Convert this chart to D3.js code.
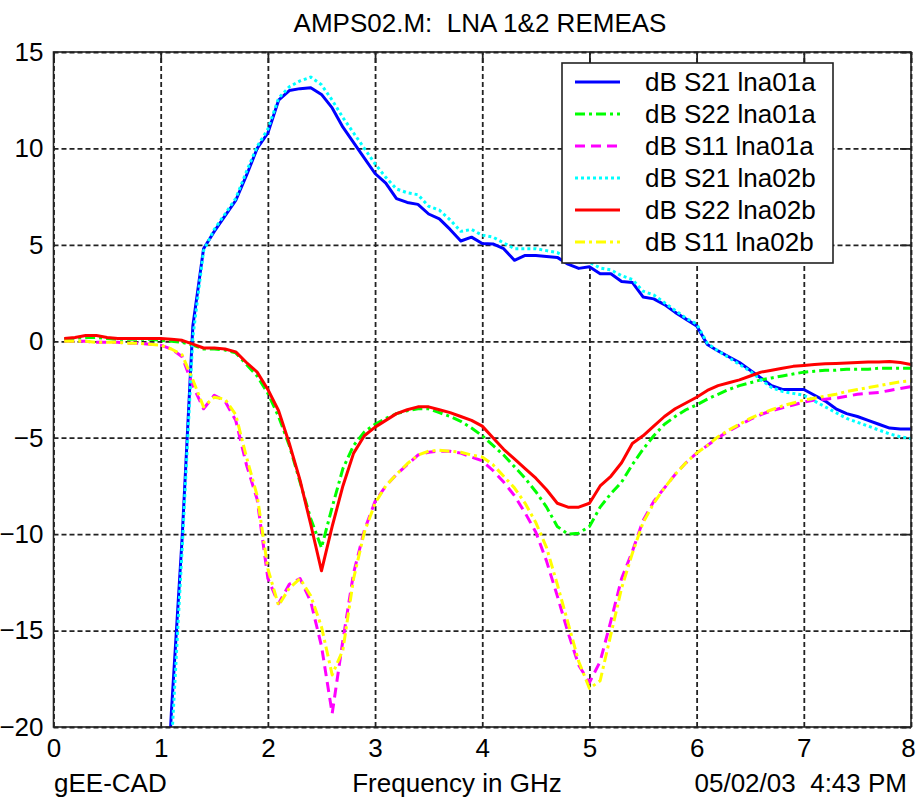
<!DOCTYPE html>
<html>
<head>
<meta charset="utf-8">
<script src="https://cdn.jsdelivr.net/npm/d3@7"></script>
<style>
   body { margin: 0; background: #fff; }
   svg text { font-family: "Liberation Sans", Arial, sans-serif; font-size: 26px; fill: #000; }
</style>
</head>
<body>
<div id="chart"></div>
<script>
// frequency grid in GHz
var freq = [0.1, 0.2, 0.3, 0.4, 0.5, 0.6, 0.7, 0.8, 0.9, 1.0,
   1.1, 1.2, 1.3, 1.4, 1.5, 1.6, 1.7, 1.8, 1.9, 2.0,
   2.1, 2.2, 2.3, 2.4, 2.5, 2.6, 2.7, 2.8, 2.9, 3.0,
   3.1, 3.2, 3.3, 3.4, 3.5, 3.6, 3.7, 3.8, 3.9, 4.0,
   4.1, 4.2, 4.3, 4.4, 4.5, 4.6, 4.7, 4.8, 4.9, 5.0,
   5.1, 5.2, 5.3, 5.4, 5.5, 5.6, 5.7, 5.8, 5.9, 6.0,
   6.1, 6.2, 6.3, 6.4, 6.5, 6.6, 6.7, 6.8, 6.9, 7.0,
   7.1, 7.2, 7.3, 7.4, 7.5, 7.6, 7.7, 7.8, 7.9, 8.0];

// below -20 dB before 1 GHz: not on the plot
var s21a = [null, null, null, null, null, null, null, null, null, -30,
   -19.2, -10.2, 0.8, 4.8, 5.7, 6.5, 7.3, 8.6, 10.0, 10.8,
   12.5, 13.0, 13.1, 13.15, 12.8, 12.1, 11.1, 10.3, 9.5, 8.7,
   8.2, 7.4, 7.2, 7.1, 6.6, 6.35, 5.8, 5.2, 5.4, 5.07,
   5.05, 4.8, 4.2, 4.45, 4.45, 4.4, 4.35, 4.0, 3.78, 3.86,
   3.5, 3.5, 3.1, 3.05, 2.3, 2.2, 1.9, 1.5, 1.15, 0.8,
   -0.17, -0.5, -0.8, -1.1, -1.5, -1.9, -2.3, -2.5, -2.5, -2.5,
   -2.8, -3.1, -3.5, -3.75, -3.9, -4.1, -4.3, -4.5, -4.55, -4.55];

var s22a = [0.1, 0.15, 0.2, 0.2, 0.15, 0.1, 0.1, 0.1, 0.1, 0.05,
   0.0, -0.05, -0.2, -0.4, -0.4, -0.45, -0.6, -1.2, -1.8, -2.7,
   -3.9, -5.4, -7.3, -9.2, -10.7, -8.6, -6.6, -5.4, -4.7, -4.3,
   -4.0, -3.75, -3.6, -3.5, -3.5, -3.7, -3.9, -4.15, -4.5, -4.9,
   -5.4, -5.9, -6.5, -7.1, -7.8, -8.6, -9.6, -10.0, -9.95, -9.6,
   -8.6, -7.9, -7.3, -6.4, -5.6, -4.9, -4.3, -3.9, -3.55, -3.3,
   -3.0, -2.75, -2.5, -2.3, -2.15, -2.0, -1.9, -1.8, -1.7, -1.6,
   -1.55, -1.5, -1.5, -1.45, -1.45, -1.45, -1.4, -1.4, -1.4, -1.4];

var s11a = [0.0, 0.0, 0.0, -0.05, -0.05, -0.05, -0.1, -0.1, -0.15, -0.2,
   -0.4, -0.8, -2.3, -3.5, -2.8, -3.1, -4.1, -6.4, -8.2, -12.3,
   -13.6, -12.6, -12.3, -13.5, -15.8, -19.3, -15.5, -12.0, -9.8, -8.3,
   -7.5, -6.9, -6.4, -5.9, -5.75, -5.7, -5.7, -5.8, -6.0, -6.2,
   -6.7, -7.3, -8.0, -8.9, -9.9, -11.4, -13.2, -15.1, -16.8, -17.7,
   -16.6, -14.5, -12.3, -10.9, -9.3, -8.3, -7.6, -6.9, -6.3, -5.8,
   -5.4, -5.0, -4.65, -4.35, -4.05, -3.8, -3.6, -3.45, -3.3, -3.15,
   -3.05, -3.0, -2.95, -2.85, -2.75, -2.7, -2.65, -2.55, -2.45, -2.35];

var s21b = [null, null, null, null, null, null, null, null, null, -32,
   -21, -10.8, 0.2, 4.7, 5.8, 6.6, 7.4, 8.8, 10.1, 11.0,
   12.6, 13.2, 13.5, 13.7, 13.3, 12.5, 11.6, 10.8, 10.0, 9.2,
   8.5, 7.9, 7.7, 7.6, 7.0, 6.8, 6.3, 5.7, 5.8, 5.5,
   5.4, 5.1, 4.8, 4.8, 4.8, 4.7, 4.6, 4.3, 4.1, 4.1,
   3.8, 3.7, 3.4, 3.2, 2.6, 2.4, 2.0, 1.6, 1.2, 0.9,
   -0.1, -0.5, -0.85, -1.2, -1.55, -2.0, -2.4, -2.6, -2.7, -2.8,
   -3.1, -3.4, -3.7, -4.0, -4.2, -4.4, -4.6, -4.8, -4.95, -5.05];

var s22b = [0.15, 0.2, 0.3, 0.3, 0.2, 0.15, 0.15, 0.15, 0.15, 0.15,
   0.1, 0.05, -0.15, -0.35, -0.35, -0.4, -0.55, -1.1, -1.6, -2.5,
   -3.6, -5.3, -7.2, -9.5, -11.9, -9.6, -7.5, -5.8, -4.9, -4.45,
   -4.1, -3.75, -3.55, -3.4, -3.4, -3.55, -3.7, -3.9, -4.1, -4.4,
   -5.0, -5.6, -6.1, -6.6, -7.1, -7.7, -8.4, -8.6, -8.6, -8.4,
   -7.5, -7.0, -6.3, -5.3, -4.9, -4.4, -3.9, -3.5, -3.2, -2.9,
   -2.55, -2.3, -2.15, -2.0, -1.8, -1.6, -1.5, -1.4, -1.3, -1.25,
   -1.2, -1.17, -1.15, -1.12, -1.1, -1.08, -1.08, -1.05, -1.1, -1.2];

var s11b = [0.0, 0.0, 0.0, -0.05, -0.05, -0.05, -0.1, -0.1, -0.15, -0.2,
   -0.4, -0.7, -2.0, -3.4, -2.9, -3.0, -3.8, -6.0, -8.0, -11.8,
   -13.7, -12.8, -12.3, -13.2, -14.8, -17.3, -16.0, -12.3, -9.9, -8.4,
   -7.5, -6.9, -6.35, -5.9, -5.7, -5.65, -5.7, -5.75, -5.9, -6.0,
   -6.4, -7.0, -7.6, -8.4, -9.4, -10.7, -12.6, -14.6, -16.6, -18.0,
   -17.6, -15.2, -12.8, -11.0, -9.4, -8.4, -7.6, -6.9, -6.3, -5.8,
   -5.4, -4.95, -4.6, -4.3, -4.0, -3.75, -3.55, -3.35, -3.2, -3.05,
   -2.95, -2.85, -2.75, -2.6, -2.5, -2.4, -2.3, -2.2, -2.1, -2.05];

var seriesNames = ['dB S21 lna01a', 'dB S22 lna01a', 'dB S11 lna01a',
   'dB S21 lna02b', 'dB S22 lna02b', 'dB S11 lna02b'];
var seriesColors = ['#0000ff', '#00ff00', '#ff00ff', '#00ffff', '#ff0000', '#ffff00'];
var seriesDash = ['none', '10,4,3,4', '10,6', '3,3', 'none', '10,4,3,4'];

var xTicks = [0, 1, 2, 3, 4, 5, 6, 7, 8];
var yTicks = [-20, -15, -10, -5, 0, 5, 10, 15];

function draw_chart() {
   var width = 917, height = 799;
   var left = 53.5, right = 911, top = 52, bottom = 727;

   var x = d3.scaleLinear().domain([0, 8]).range([left, right]);
   var y = d3.scaleLinear().domain([-20, 15]).range([bottom, top]);

   var svg = d3.select('#chart')
      .append('svg')
      .attr('width', width)
      .attr('height', height)
      .style('background', '#fff');

   svg.append('clipPath').attr('id', 'plotclip')
      .append('rect')
      .attr('x', left).attr('y', top)
      .attr('width', right - left).attr('height', bottom - top);

   // dashed grid
   svg.append('g')
      .attr('transform', 'translate(0,' + bottom + ')')
      .call(d3.axisBottom(x).tickValues(xTicks).tickSize(-(bottom - top)).tickFormat(''))
      .call(function (g) {
         g.select('.domain').remove();
         g.selectAll('line').attr('stroke', '#222').attr('stroke-width', 1.8).attr('stroke-dasharray', '5,3');
      });
   svg.append('g')
      .attr('transform', 'translate(' + left + ',0)')
      .call(d3.axisLeft(y).tickValues(yTicks).tickSize(-(right - left)).tickFormat(''))
      .call(function (g) {
         g.select('.domain').remove();
         g.selectAll('line').attr('stroke', '#222').attr('stroke-width', 1.8).attr('stroke-dasharray', '5,3');
      });

   // tick labels
   svg.append('g')
      .attr('transform', 'translate(0,' + bottom + ')')
      .call(d3.axisBottom(x).tickValues(xTicks).tickSize(0).tickPadding(12).tickFormat(d3.format('d')))
      .call(function (g) {
         g.select('.domain').remove();
         g.selectAll('text').attr('font-size', null).attr('font-family', null)
            .attr('dx', function (d) { return d === 8 ? -3 : 0; });
      });
   svg.append('g')
      .attr('transform', 'translate(' + left + ',0)')
      .call(d3.axisLeft(y).tickValues(yTicks).tickSize(0).tickPadding(10).tickFormat(d3.format('d')))
      .call(function (g) {
         g.select('.domain').remove();
         g.selectAll('text').attr('font-size', null).attr('font-family', null);
      });

   // inward ticks on top and right
   svg.append('g')
      .attr('transform', 'translate(0,' + top + ')')
      .call(d3.axisTop(x).tickValues(xTicks).tickSize(-11).tickFormat(''))
      .call(function (g) {
         g.select('.domain').remove();
         g.selectAll('line').attr('stroke', '#222').attr('stroke-width', 1.8);
      });
   svg.append('g')
      .attr('transform', 'translate(' + right + ',0)')
      .call(d3.axisRight(y).tickValues(yTicks).tickSize(-11).tickFormat(''))
      .call(function (g) {
         g.select('.domain').remove();
         g.selectAll('line').attr('stroke', '#222').attr('stroke-width', 1.8);
      });

   // data lines
   var allSeries = [s21a, s22a, s11a, s21b, s22b, s11b];
   var line = d3.line()
      .defined(function (d) { return d[1] !== null; })
      .x(function (d) { return x(d[0]); })
      .y(function (d) { return y(d[1]); });

   svg.append('g')
      .attr('clip-path', 'url(#plotclip)')
      .selectAll('path')
      .data(allSeries)
      .enter().append('path')
      .attr('d', function (vals) {
         return line(freq.map(function (f, i) { return [f, vals[i]]; }));
      })
      .attr('fill', 'none')
      .attr('stroke', function (d, i) { return seriesColors[i]; })
      .attr('stroke-width', 3)
      .attr('stroke-linejoin', 'round')
      .attr('stroke-dasharray', function (d, i) { return seriesDash[i]; });

   // axes box
   svg.append('rect')
      .attr('x', left).attr('y', top)
      .attr('width', right - left).attr('height', bottom - top)
      .attr('fill', 'none')
      .attr('stroke', '#222')
      .attr('stroke-width', 1.6);

   // legend
   var lg = svg.append('g').attr('transform', 'translate(562,63)');
   lg.append('rect')
      .attr('width', 271).attr('height', 200)
      .attr('fill', '#fff')
      .attr('stroke', '#222')
      .attr('stroke-width', 1.6);
   var rows = lg.selectAll('g.row')
      .data(seriesNames)
      .enter().append('g')
      .attr('class', 'row')
      .attr('transform', function (d, i) { return 'translate(0,' + (19 + i * 32) + ')'; });
   rows.append('line')
      .attr('x1', 13).attr('x2', 58)
      .attr('stroke', function (d, i) { return seriesColors[i]; })
      .attr('stroke-width', 3)
      .attr('stroke-dasharray', function (d, i) { return seriesDash[i]; });
   rows.append('text')
      .attr('x', 83)
      .attr('dy', '0.36em')
      .text(function (d) { return d; });

   // title and footer texts
   svg.append('text')
      .attr('x', 480).attr('y', 32)
      .attr('text-anchor', 'middle')
      .style('white-space', 'pre')
      .text('AMPS02.M:  LNA 1&2 REMEAS');
   svg.append('text')
      .attr('x', 54).attr('y', 792)
      .text('gEE-CAD');
   svg.append('text')
      .attr('x', 457).attr('y', 792)
      .attr('text-anchor', 'middle')
      .text('Frequency in GHz');
   svg.append('text')
      .attr('x', 907).attr('y', 792)
      .attr('text-anchor', 'end')
      .style('white-space', 'pre')
      .text('05/02/03  4:43 PM');
}

draw_chart();
</script>
</body>
</html>
